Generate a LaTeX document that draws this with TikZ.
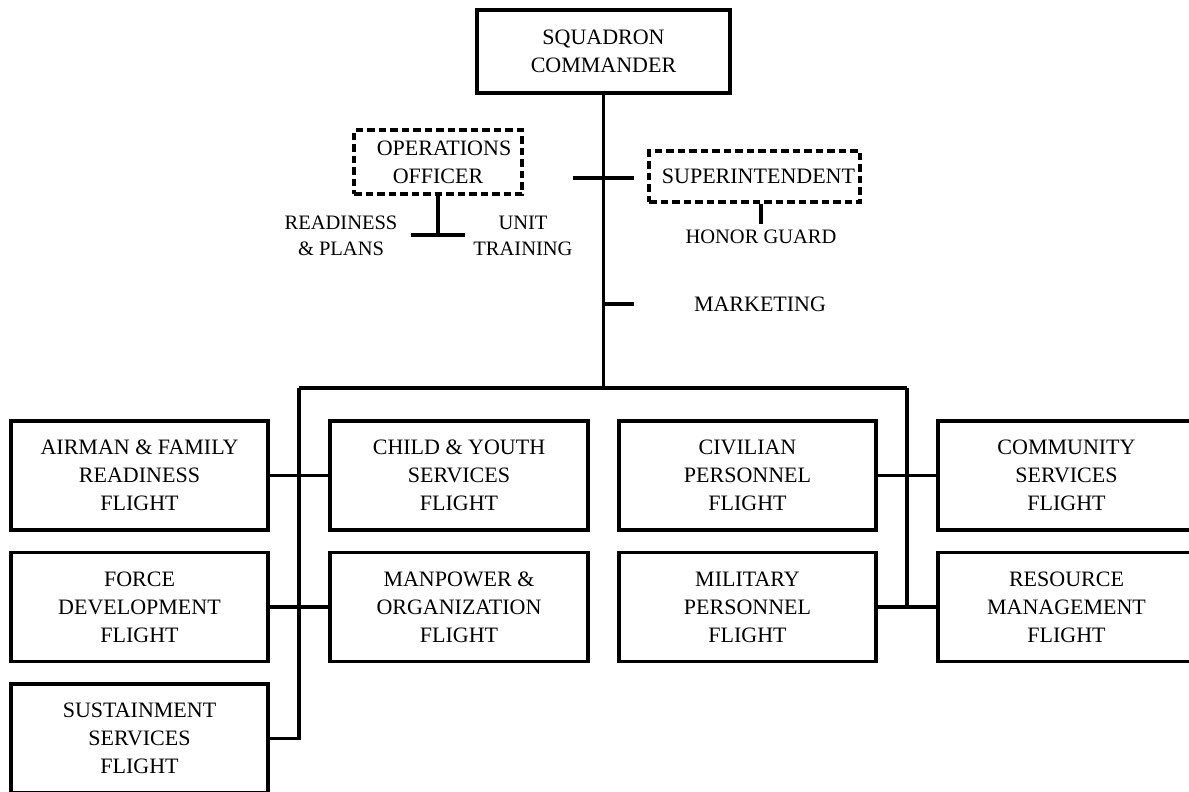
\documentclass[tikz,border=0pt]{standalone}
\usepackage{fontspec}
\setmainfont{Liberation Serif}
\begin{document}
\begin{tikzpicture}[x=1pt,y=-1pt,
  box/.style={draw, line width=3.1pt, align=center, inner sep=0pt,
    font=\fontsize{22}{28}\selectfont, minimum width=257pt, minimum height=109pt},
  dbox/.style={draw, line width=3.2pt, dash pattern=on 7.5pt off 4pt, align=center,
    inner sep=0pt, font=\fontsize{22}{28}\selectfont},
  lbl/.style={align=center, inner sep=0pt, font=\fontsize{20.5}{26}\selectfont},
  mlbl/.style={align=center, inner sep=0pt, font=\fontsize{22}{28}\selectfont},
  conn/.style={line width=3.1pt}]
\useasboundingbox (0,0) rectangle (1189,792);
\clip (0,0) rectangle (1189,792);
% top
\node[box, minimum width=253pt, minimum height=83pt] (sc) at (603.5,51.5) {SQUADRON\\COMMANDER};
\node[dbox, minimum width=168pt, minimum height=64pt] (ops) at (438,162) {\hspace*{12pt}OPERATIONS\\OFFICER};
\node[dbox, minimum width=211pt, minimum height=51pt] (sup) at (754.5,176.5) {\hspace*{8pt}SUPERINTENDENT};
\node[lbl] (rp) at (341,236) {READINESS\\\& PLANS};
\node[lbl] (ut) at (523,236) {UNIT\\TRAINING};
\node[lbl] (hg) at (761,237) {HONOR GUARD};
\node[mlbl] (mk) at (760,304) {MARKETING};
% coordinates
\coordinate (tl) at (573,178);
\coordinate (tr) at (634,178);
\coordinate (bar) at (438,235);
\coordinate (barl) at (411,235);
\coordinate (barr) at (465,235);
\coordinate (hgs) at (761,224);
\coordinate (mt) at (634,304);
\coordinate (bl) at (299,388);
\coordinate (br) at (907,388);
% flights
\node[box] (afr) at (139.5,475.5) {AIRMAN \& FAMILY\\READINESS\\FLIGHT};
\node[box] (fdf) at (139.5,607) {FORCE\\DEVELOPMENT\\FLIGHT};
\node[box] (ssf) at (139.5,738.5) {SUSTAINMENT\\SERVICES\\FLIGHT};
\node[box, minimum width=258pt] (cys) at (459,475.5) {CHILD \& YOUTH\\SERVICES\\FLIGHT};
\node[box, minimum width=258pt] (mof) at (459,607) {MANPOWER \&\\ORGANIZATION\\FLIGHT};
\node[box] (cpf) at (747.5,475.5) {CIVILIAN\\PERSONNEL\\FLIGHT};
\node[box] (mpf) at (747.5,607) {MILITARY\\PERSONNEL\\FLIGHT};
\node[box] (csf) at (1066.5,475.5) {COMMUNITY\\SERVICES\\FLIGHT};
\node[box] (rmf) at (1066.5,607) {RESOURCE\\MANAGEMENT\\FLIGHT};
% connectors
\draw[conn] (sc.south) -- (sc.south |- bl);
\draw[conn] (tl) -- (tr);
\draw[conn] (ops.south) -- (bar);
\draw[conn] (barl) -- (barr);
\draw[conn] (sup.south -| hgs) -- (hgs);
\draw[conn] (sc.south |- mt) -- (mt);
\draw[conn] (bl) -- (br);
\draw[conn] (bl) -- (bl |- ssf.east) -- (ssf.east);
\draw[conn] (br) -- (br |- rmf.west);
\draw[conn] (afr.east) -- (cys.west);
\draw[conn] (fdf.east) -- (mof.west);
\draw[conn] (cpf.east) -- (csf.west);
\draw[conn] (mpf.east) -- (rmf.west);
\end{tikzpicture}
\end{document}
